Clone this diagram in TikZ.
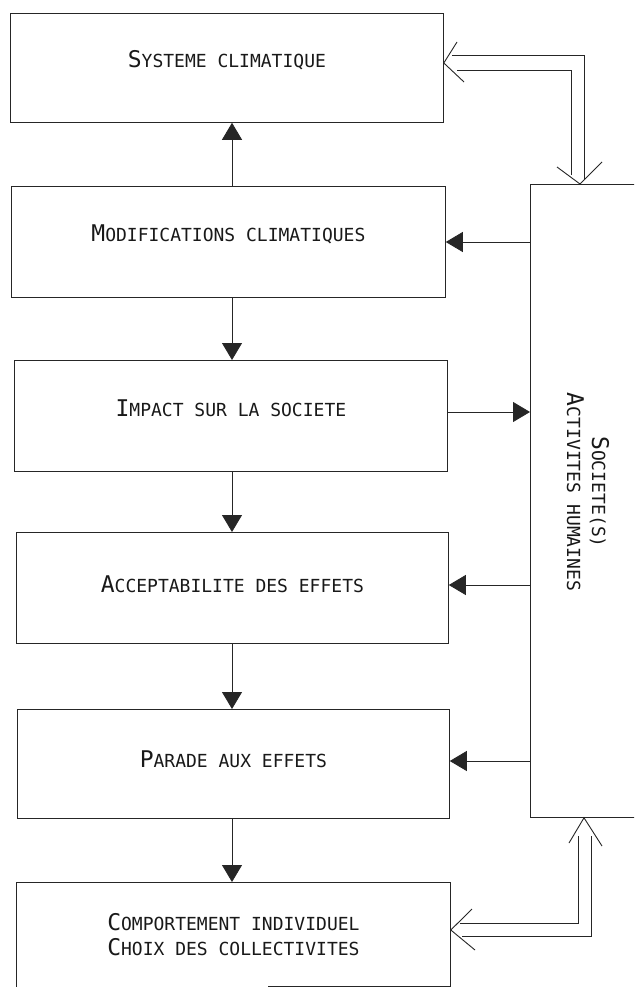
\documentclass[tikz,border=0pt]{standalone}
\usepackage{fontspec}
\usetikzlibrary{arrows.meta}
\newfontfamily\plotmono{DejaVu Sans Mono}
\newcommand\psc[2]{{\plotmono\fontsize{23}{23}\selectfont #1}{\plotmono\fontsize{18}{18}\selectfont #2}}
\begin{document}
\begin{tikzpicture}[x=1pt,y=-1pt,
  box/.style={draw=black!85, line width=0.8pt, inner sep=0pt, anchor=north west},
  lbl/.style={text=black!90, inner sep=0pt},
  conn/.style={draw=black!85, line width=0.8pt},
  fhead/.style={-{Triangle[length=17pt,width=20pt]}},
  ohead/.style={draw=black!85, line width=0.9pt}
  ]
\useasboundingbox (0,0) rectangle (634,992);
\clip (0,0) rectangle (634,992);
\fill[white] (0,0) rectangle (634,992);

% boxes
\node[box, minimum width=433pt, minimum height=109pt] (sys) at (10,13) {};
\node[box, minimum width=434pt, minimum height=111pt] (mod) at (11,186) {};
\node[box, minimum width=433pt, minimum height=111pt] (imp) at (14,360) {};
\node[box, minimum width=432pt, minimum height=111pt] (acc) at (16,532) {};
\node[box, minimum width=432pt, minimum height=109pt] (par) at (17,709) {};
\node[box, draw=none, minimum width=434pt, minimum height=104pt] (comp) at (16,882) {};
\draw[conn] (comp.south west) -- (comp.north west) -- (comp.north east) -- (comp.south east) -- ([xshift=-183pt]comp.south east);
\node[box, minimum width=200pt, minimum height=633pt] (soc) at (530,184) {};

% texts
\node[lbl] (tsys) at ([yshift=8pt]sys.center) {\psc{S}{YSTEME CLIMATIQUE}};
\node[lbl] (tmod) at ([yshift=8pt]mod.center) {\psc{M}{ODIFICATIONS CLIMATIQUES}};
\node[lbl] (timp) at ([yshift=8pt]imp.center) {\psc{I}{MPACT SUR LA SOCIETE}};
\node[lbl] (tacc) at ([yshift=4pt]acc.center) {\psc{A}{CCEPTABILITE DES EFFETS}};
\node[lbl] (tpar) at ([yshift=5pt]par.center) {\psc{P}{ARADE AUX EFFETS}};
\node[lbl, align=center] (tcomp) at ([yshift=0pt]comp.center) {\psc{C}{OMPORTEMENT INDIVIDUEL}\\[7pt]\psc{C}{HOIX DES COLLECTIVITES}};
\node[lbl, align=center, rotate=-90] (tsoc) at (588,492) {\psc{S}{OCIETE(S)}\\[5pt]\psc{A}{CTIVITES HUMAINES}};

% vertical arrows
\coordinate (cx) at (232,0);
\draw[conn, fhead] (mod.north -| cx) -- (sys.south -| cx);
\draw[conn, fhead] (mod.south -| cx) -- (imp.north -| cx);
\draw[conn, fhead] (imp.south -| cx) -- (acc.north -| cx);
\draw[conn, fhead] (acc.south -| cx) -- (par.north -| cx);
\draw[conn, fhead] (par.south -| cx) -- (comp.north -| cx);

% horizontal arrows
\draw[conn, fhead] (soc.west |- 0,242) -- (mod.east |- 0,242);
\draw[conn, fhead] (imp.east |- 0,412) -- (soc.west |- 0,412);
\draw[conn, fhead] (soc.west |- 0,585) -- (acc.east |- 0,585);
\draw[conn, fhead] (soc.west |- 0,761) -- (par.east |- 0,761);

% top double arrow
\coordinate (ta) at (sys.east |- 0,63);
\coordinate (tb) at (soc.north -| 580,0);
\draw[conn] (452,55) -- (584,55) -- (584,179);
\draw[conn] (457,70) -- (571,70) -- (571,175);
\draw[ohead] (457,42) -- (ta) -- (464,82);
\draw[ohead] (557,167) -- (tb) -- (602,162);

% bottom double arrow
\coordinate (tc) at (soc.south -| 584,0);
\coordinate (td) at (comp.east |- 0,930);
\draw[conn] (578,836) -- (578,923) -- (460,923);
\draw[conn] (591,836) -- (591,936) -- (462,936);
\draw[ohead] (569,843) -- (tc) -- (602,846);
\draw[ohead] (472,909) -- (td) -- (475,950);
\end{tikzpicture}
\end{document}
